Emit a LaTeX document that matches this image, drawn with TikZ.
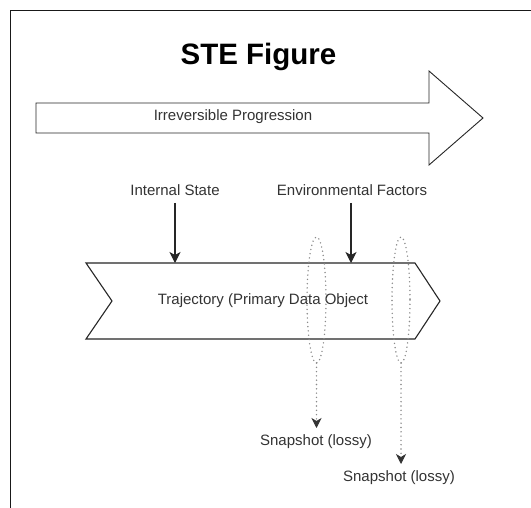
\documentclass[tikz,border=0pt]{standalone}
\usepackage{fontspec}
\setmainfont{Liberation Sans}
\usetikzlibrary{arrows.meta}
\definecolor{txt}{HTML}{333333}
\definecolor{dotc}{HTML}{8A8A8A}
\tikzset{
  lbl/.style={text=txt,font=\fontsize{15}{18}\selectfont,inner sep=0pt},
  shapeline/.style={draw=black!85,line width=1.1pt,fill=white},
  solidarrow/.style={draw=black!85,line width=1.1pt,-{Stealth[length=11pt,width=11pt,inset=3pt]}},
  dotline/.style={draw=dotc,line width=1.6pt,dash pattern=on 0pt off 4.3pt,line cap=round},
  dotarrow/.style={dotline,-{Stealth[length=10pt,width=10pt,inset=3pt,color=black!80,line cap=butt,line width=0.8pt]}}
}
\begin{document}
\begin{tikzpicture}[x=1pt,y=-1pt]
\useasboundingbox (0,0) rectangle (531,508);
\fill[white] (0,0) rectangle (531,508);
% frame
\draw[black!90,line width=1.3pt] (10.5,510) -- (10.5,10.5) -- (533,10.5);
% title
\node[font=\bfseries\fontsize{29.5}{34}\selectfont,inner sep=0pt] (title) at (258.5,57) {STE Figure};
% big arrow
\draw[shapeline,line width=0.9pt] (36,103) -- (429,103) -- (429,71) -- (483,118) -- (429,165) -- (429,133) -- (36,133) -- cycle;
\node[lbl] (prog) at (233,117) {Irreversible Progression};
% labels
\node[lbl] (int) at (175,190) {Internal State};
\node[lbl] (env) at (352,190) {Environmental Factors};
% chevron
\draw[shapeline] (86,263) -- (415,263) -- (440,301) -- (415,339) -- (86,339) -- (112,301) -- cycle;
\node[lbl] (traj) at (263,301) {Trajectory (Primary Data Object};
\coordinate (intsrc) at (175,203);
\coordinate (envsrc) at (351,203);
\coordinate (inttop) at (175,263);
\coordinate (envtop) at (351,263);
\draw[solidarrow] (intsrc) -- (inttop);
\draw[solidarrow] (envsrc) -- (envtop);
% snapshot ellipses
\draw[dotline] (316.5,300) ellipse [x radius=9.5, y radius=63];
\draw[dotline] (401,300) ellipse [x radius=9, y radius=63];
\coordinate (e1b) at (316.5,363);
\coordinate (e2b) at (401,363);
\coordinate (s1top) at (316.5,428);
\coordinate (s2top) at (401,464);
\node[lbl] (s1) at (316,442) {Snapshot (lossy)};
\node[lbl] (s2) at (399,478) {Snapshot (lossy)};
\draw[dotarrow] (e1b) -- (s1top);
\draw[dotarrow] (e2b) -- (s2top);
\end{tikzpicture}
\end{document}
